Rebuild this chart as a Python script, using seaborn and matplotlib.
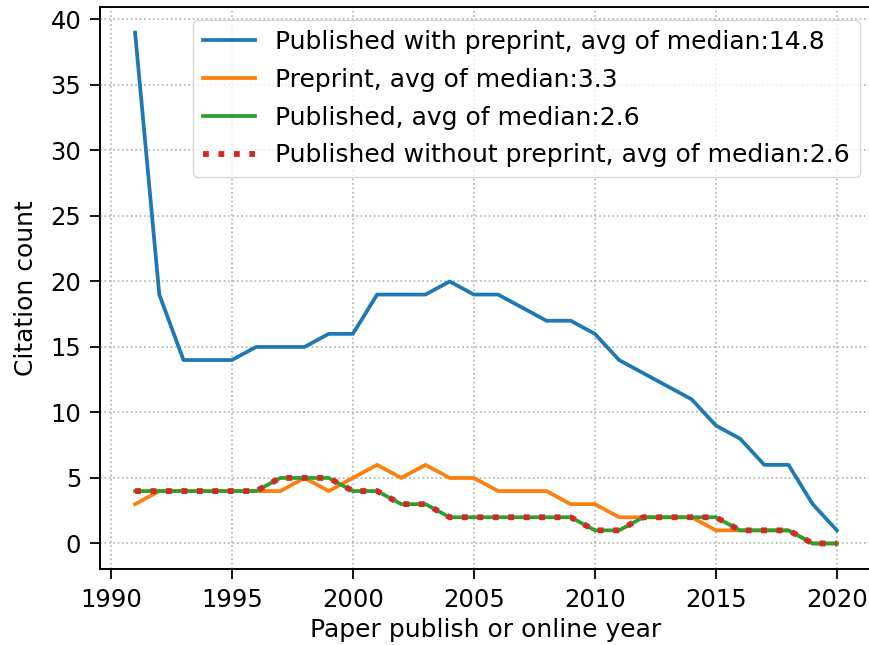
import numpy as np
import pandas as pd
import matplotlib
matplotlib.use("Agg")
import matplotlib.pyplot as plt
import seaborn as sns

# Median citation counts per publication/online year
years = list(range(1991, 2021))
published_with_preprint = [39, 19, 14, 14, 14, 15, 15, 15, 16, 16,
                           19, 19, 19, 20, 19, 19, 18, 17, 17, 16,
                           14, 13, 12, 11, 9, 8, 6, 6, 3, 1]
preprint = [3, 4, 4, 4, 4, 4, 4, 5, 4, 5,
            6, 5, 6, 5, 5, 4, 4, 4, 3, 3,
            2, 2, 2, 2, 1, 1, 1, 1, 0, 0]
published = [4, 4, 4, 4, 4, 4, 5, 5, 5, 4,
             4, 3, 3, 2, 2, 2, 2, 2, 2, 1,
             1, 2, 2, 2, 2, 1, 1, 1, 0, 0]
published_without_preprint = [4, 4, 4, 4, 4, 4, 5, 5, 5, 4,
                              4, 3, 3, 2, 2, 2, 2, 2, 2, 1,
                              1, 2, 2, 2, 2, 1, 1, 1, 0, 0]

series = [
    ("Published with preprint", published_with_preprint, "tab:blue", "-", 2.7),
    ("Preprint", preprint, "tab:orange", "-", 2.7),
    ("Published", published, "tab:green", "-", 2.7),
    ("Published without preprint", published_without_preprint, "tab:red", ":", 4.2),
]

plt.rcParams["font.family"] = ["DejaVu Sans"]
plt.rcParams["font.size"] = 18

W, H = 869, 645
fig = plt.figure(figsize=(W / 100, H / 100), dpi=100)
# axes run past the right edge of the canvas; the right spine falls outside
ax = fig.add_axes([100 / W, 76 / H, 786 / W, 562 / H])

for name, vals, color, ls, lw in series:
    df = pd.DataFrame({"year": years, "count": vals})
    label = f"{name}, avg of median:{np.mean(vals):.1f}"
    sns.lineplot(data=df, x="year", y="count", ax=ax, color=color,
                 linestyle=ls, linewidth=lw, label=label)

ax.set_xlim(1989.55, 1989.55 + 786 / 24.2)
ax.set_ylim(-1.95, 40.95)
ax.grid(True, linestyle=":", color="#b0b0b0", linewidth=1.2)
ax.set_axisbelow(True)
ax.set_xticks([1990, 1995, 2000, 2005, 2010, 2015, 2020])
ax.set_yticks([0, 5, 10, 15, 20, 25, 30, 35, 40])
ax.tick_params(labelsize=17.5, width=1.3, length=7, pad=6.5)
for sp in ax.spines.values():
    sp.set_linewidth(1.4)
ax.set_xlabel("Paper publish or online year", fontsize=18)
ax.set_ylabel("Citation count", fontsize=18, labelpad=9)
ax.xaxis.set_label_coords((486 - 100) / 786, -0.088)
ax.legend(loc="upper right", bbox_to_anchor=(860 / W, 1 - 20 / H),
          bbox_transform=fig.transFigure, borderaxespad=0,
          fontsize=18, handlelength=2.1, labelspacing=0.55)

fig.savefig("out.png", dpi=100)
